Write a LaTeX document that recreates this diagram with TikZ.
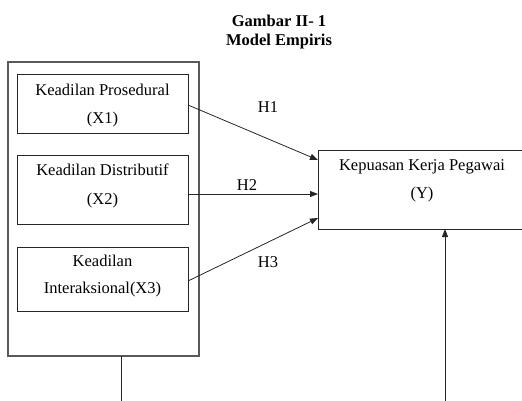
\documentclass[tikz,border=0pt]{standalone}
\usepackage{fontspec}
\setmainfont{Liberation Serif}
\usetikzlibrary{arrows.meta,calc}
\newcommand{\boxtext}[5]{\parbox[c][#2][t]{#1}{\centering\fontsize{16.5}{#4}\selectfont\rule{0pt}{#3}#5\par}}
\begin{document}
\begin{tikzpicture}[x=1pt,y=-1pt,
  box/.style={draw=black!85,line width=0.8pt,inner sep=0pt,outer sep=0pt},
  outerbox/.style={draw=black!65,line width=1.1pt,inner sep=0pt,outer sep=0pt},
  conn/.style={draw=black!85,line width=0.8pt},
  arr/.style={conn,-{Triangle[length=8pt,width=6pt]}},
  hlabel/.style={anchor=base,inner sep=0pt,font=\fontsize{16.5}{20}\selectfont},
  title/.style={anchor=base,inner sep=0pt,font=\fontsize{16.5}{20}\selectfont\bfseries}]
\useasboundingbox (0,0) rectangle (522,401);
\clip (0,0) rectangle (522,401);
\node[title] (t1) at (279,27) {Gambar II- 1};
\node[title] (t2) at (279,46) {Model Empiris};
\node[outerbox,minimum width=191pt,minimum height=294pt] (outer) at (103.5,209) {};
\node[box] (x1) at (102.5,103.5) {\boxtext{171pt}{59pt}{21.7pt}{28.3pt}{Keadilan Prosedural\\(X1)}};
\node[box] (x2) at (102.5,189.5) {\boxtext{171pt}{69pt}{20pt}{30pt}{Keadilan Distributif\\(X2)}};
\node[box] (x3) at (102.5,279) {\boxtext{171pt}{64pt}{19.7pt}{26.6pt}{Keadilan\\Interaksional(X3)}};
\node[box] (y) at (422,189.5) {\boxtext{208pt}{79pt}{20pt}{28pt}{Kepuasan Kerja Pegawai\\(Y)}};
\node[hlabel] (h1) at (268,113) {H1};
\node[hlabel] (h2) at (247,190) {H2};
\node[hlabel] (h3) at (268,267) {H3};
\draw[arr] ([yshift=-1.5pt]x1.east) -- ([yshift=-10pt]y.north west);
\draw[arr] ([yshift=-4.5pt]x2.east) -- ([yshift=-4.5pt]y.west);
\draw[arr] ([yshift=-2pt]x3.east) -- ([yshift=11pt]y.south west);
\coordinate (c1) at (121,405);
\coordinate (c2) at (445,405);
\draw[conn] (outer.south -| c1) -- (c1);
\draw[arr] (c2) -- (c2 |- y.south);
\end{tikzpicture}
\end{document}
